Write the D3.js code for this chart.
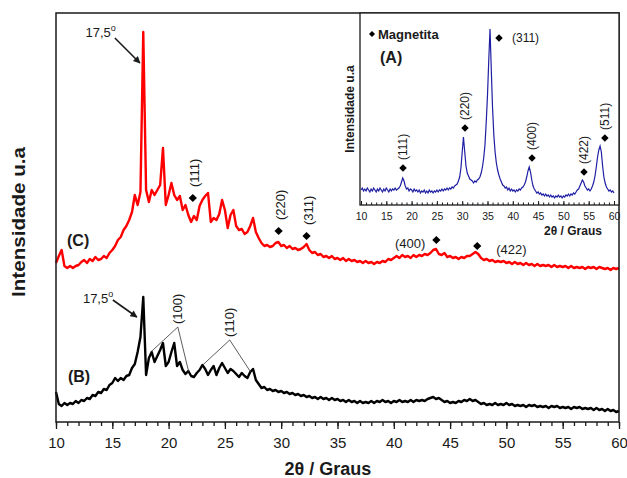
<!DOCTYPE html>
<html>
<head>
<meta charset="utf-8">
<script src="https://cdn.jsdelivr.net/npm/d3@7"></script>
<style>
  body { margin: 0; background: #fff; }
  svg { display: block; font-family: "Liberation Sans", Arial, sans-serif; }
</style>
</head>
<body>
<svg id="chart" width="627" height="478"></svg>
<script>
// 2theta grid of the diffractograms (degrees), one value every 0.25
const angleStart = 10;
const angleStep = 0.25;

// (C) red curve, intensity u.a.
const serieC = [
  159,166,172,156, 154,156,154,156, 157,160,162,159, 163,161,165,162,
  163,166,164,169, 172,176,182,185, 192,196,202,210, 227,217,230,390,
  232,220,232,227, 232,237,274,217, 227,239,227,222, 226,212,217,207,
  200,206,202,216, 222,226,229,200, 204,202,208,222, 212,194,207,212,
  196,192,193,188, 190,196,204,190, 184,179,176,177, 175,176,179,180,
  176,177,174,176, 173,174,172,173, 175,178,172,169, 170,167,168,165,
  166,164,166,163, 164,162,164,161, 163,161,162,160, 161,159,161,159,
  160,158,160,159, 161,160,163,162, 164,166,164,167, 165,166,164,167,
  165,167,166,168, 167,169,172,173, 168,167,169,165, 166,164,165,163,
  165,164,166,166, 168,170,168,164, 162,163,161,162, 160,161,160,161,
  159,160,158,160, 158,159,157,159, 157,158,156,158, 156,157,156,157,
  155,157,155,156, 155,156,154,156, 154,155,154,155, 153,155,154,155,
  153,155,154,153, 154,152,154,153, 154
];

// (B) black curve, intensity u.a.
const serieB = [
  30,18,16,19, 17,19,18,21, 19,22,21,24, 23,27,26,30,
  29,33,32,37, 39,44,41,44, 42,46,47,54, 58,70,85,125,
  47,64,70,60, 66,72,79,56, 60,70,79,56, 60,52,48,51,
  46,45,49,52, 57,53,47,52, 56,47,54,59, 54,49,53,51,
  48,45,49,46, 44,50,53,42, 38,34,35,32, 33,31,32,30,
  31,29,30,28, 29,27,28,26, 27,25,26,24, 25,23,25,23,
  24,22,24,22, 23,21,22,20, 22,20,21,19, 21,19,20,19,
  21,19,21,20, 22,20,21,19, 21,20,22,20, 21,20,22,20,
  22,21,22,21, 23,24,25,23, 24,22,20,21, 19,20,19,21,
  20,22,21,23, 21,22,20,18, 19,17,18,17, 19,17,18,17,
  19,17,18,16, 17,16,17,15, 17,16,17,15, 16,15,16,14,
  16,15,16,14, 15,14,15,13, 15,14,15,13, 14,13,14,12,
  14,12,13,11, 13,11,12,10, 11
];

// (A) inset, magnetite, intensity u.a.
const serieA = [
  15,17,14,16, 14,17,15,13, 16,14,17,15, 13,16,14,17,
  15,13,16,14, 17,15,13,16, 14,16,15,17, 15,16,17,19,
  23,27,24,19, 16,17,14,16, 15,13,16,14, 15,13,15,12,
  14,13,15,12, 14,12,15,13, 14,12,14,13, 15,13,15,14,
  16,14,16,15, 17,15,17,16, 18,17,19,20, 21,24,28,37,
  53,68,53,39, 32,29,26,25, 24,22,24,23, 25,26,28,32,
  38,47,60,83, 110,145,176,135, 97,70,53,42, 35,30,26,23,
  20,19,17,18, 15,17,14,16, 14,15,13,15, 14,16,15,17,
  18,20,23,28, 34,38,33,25, 19,16,14,12, 13,11,12,10,
  11,9,11,9, 10,8,10,8, 9,7,9,8, 10,8,9,7,
  9,8,10,9, 11,9,11,10, 12,11,13,15, 16,19,22,25,
  23,19,17,15, 16,14,16,19, 23,29,38,48, 55,59,53,39,
  28,22,18,16, 14,15,13,14, 12
];

const mainTicks = [10, 15, 20, 25, 30, 35, 40, 45, 50, 55, 60];
const insetTicks = [10, 15, 20, 25, 30, 35, 40, 45, 50, 55, 60];

// peak labels: [hkl, 2theta, intensity]
const peaksC = [
  ["(111)", 22.15, 224], ["(220)", 29.77, 191], ["(311)", 32.25, 186],
  ["(400)", 43.78, 182], ["(422)", 47.41, 176]
];
const peaksA = [
  ["(111)", 18.3, 37], ["(220)", 30.55, 77], ["(311)", 37.27, 167],
  ["(400)", 43.8, 47], ["(422)", 54.07, 33], ["(511)", 58.2, 67]
];
// brackets on (B): [hkl, apex, left end, right end] as [2theta, intensity]
const bracketsB = [
  ["(100)", [20.82, 95], [18.42, 70], [21.79, 50]],
  ["(110)", [25.43, 82], [23.03, 57], [27.29, 50]]
];

const svg = d3.select("#chart");
const ink = "#1a1a1a";

const x = d3.scaleLinear().domain([10, 60]).range([56, 619]);
const y = d3.scaleLinear().domain([0, 409]).range([422, 13]);
const angleAt = i => angleStart + i * angleStep;

svg.append("defs").append("marker")
  .attr("id", "arrow")
  .attr("viewBox", "0 0 10 10")
  .attr("refX", 9).attr("refY", 5)
  .attr("markerWidth", 9).attr("markerHeight", 7)
  .attr("markerUnits", "userSpaceOnUse")
  .attr("orient", "auto")
  .append("path").attr("d", "M0,0L10,5L0,10z").attr("fill", ink);

const mainLine = d3.line().x((d, i) => x(angleAt(i))).y(d => y(d));

svg.append("path").datum(serieC)
  .attr("d", mainLine)
  .attr("fill", "none").attr("stroke", "#ff0000")
  .attr("stroke-width", 2.4).attr("stroke-linejoin", "round");

svg.append("path").datum(serieB)
  .attr("d", mainLine)
  .attr("fill", "none").attr("stroke", "#000")
  .attr("stroke-width", 2.4).attr("stroke-linejoin", "round");

// frame
svg.append("rect")
  .attr("x", 56).attr("y", 13).attr("width", 563).attr("height", 409)
  .attr("fill", "none").attr("stroke", ink).attr("stroke-width", 1.5);

// x axis, minor then major ticks
svg.append("g")
  .attr("transform", "translate(0,422)")
  .call(d3.axisBottom(x).tickValues(d3.range(10, 61, 1)).tickSize(4).tickFormat(""))
  .call(g => g.select(".domain").remove())
  .call(g => g.selectAll("line").attr("stroke", ink).attr("stroke-width", 1.3));

svg.append("g")
  .attr("transform", "translate(0,422)")
  .call(d3.axisBottom(x).tickValues(mainTicks).tickSize(7).tickPadding(8))
  .call(g => g.select(".domain").remove())
  .call(g => g.selectAll("line").attr("stroke", ink).attr("stroke-width", 1.3))
  .call(g => g.selectAll("text").attr("font-size", 15).attr("fill", ink)
    .attr("font-family", "Liberation Sans, Arial, sans-serif"));

svg.append("text")
  .attr("x", 328).attr("y", 475)
  .attr("text-anchor", "middle")
  .attr("font-size", 18).attr("font-weight", "bold").attr("fill", ink)
  .text("2θ / Graus");

svg.append("text")
  .attr("transform", "translate(19,222) rotate(-90)")
  .attr("text-anchor", "middle").attr("dominant-baseline", "central")
  .attr("font-size", 18).attr("font-weight", "bold").attr("fill", ink)
  .attr("textLength", 150).attr("lengthAdjust", "spacingAndGlyphs")
  .text("Intensidade u.a");

// series labels
svg.append("text").attr("x", x(10.98)).attr("y", y(176))
  .attr("font-size", 16).attr("font-weight", "bold").attr("fill", ink).text("(C)");
svg.append("text").attr("x", x(11.06)).attr("y", y(40))
  .attr("font-size", 16).attr("font-weight", "bold").attr("fill", ink).text("(B)");

// 17,5 arrows
function degreeNote(tx, ty, from, to) {
  const t = svg.append("text").attr("x", x(tx)).attr("y", y(ty))
    .attr("font-size", 13).attr("fill", ink);
  t.append("tspan").text("17,5");
  t.append("tspan").attr("font-size", 9).attr("dy", -6).text("o");
  svg.append("line")
    .attr("x1", x(from[0])).attr("y1", y(from[1]))
    .attr("x2", x(to[0])).attr("y2", y(to[1]))
    .attr("stroke", ink).attr("stroke-width", 1.6)
    .attr("marker-end", "url(#arrow)");
}
degreeNote(12.62, 385, [15.23, 384], [17.45, 359]);
degreeNote(12.39, 119, [15.05, 122], [17.18, 105]);

function diamond(g, cx, cy, size) {
  g.append("path")
    .attr("d", d3.symbol(d3.symbolSquare, size)())
    .attr("transform", `translate(${cx},${cy}) rotate(45)`)
    .attr("fill", "#000");
}

// peak labels on (C)
peaksC.forEach(([hkl, a, v]) => {
  const px = x(a), py = y(v);
  diamond(svg, px, py, 34);
  if (hkl === "(400)") {
    svg.append("text").attr("x", px - 11).attr("y", py + 3)
      .attr("text-anchor", "end").attr("dominant-baseline", "central")
      .attr("font-size", 13).attr("fill", ink).text(hkl);
  } else if (hkl === "(422)") {
    svg.append("text").attr("x", px + 19).attr("y", py + 3)
      .attr("dominant-baseline", "central")
      .attr("font-size", 13).attr("fill", ink).text(hkl);
  } else {
    svg.append("text")
      .attr("transform", `translate(${px + 2},${py - 11}) rotate(-90)`)
      .attr("dominant-baseline", "central")
      .attr("font-size", 13).attr("fill", ink).text(hkl);
  }
});

// brackets on (B)
bracketsB.forEach(([hkl, apex, left, right]) => {
  svg.append("path")
    .attr("d", d3.line()([[x(left[0]), y(left[1])], [x(apex[0]), y(apex[1])], [x(right[0]), y(right[1])]]))
    .attr("fill", "none").attr("stroke", "#333").attr("stroke-width", 0.8);
  svg.append("text")
    .attr("transform", `translate(${x(apex[0])},${y(apex[1]) - 3}) rotate(-90)`)
    .attr("dominant-baseline", "central")
    .attr("font-size", 13).attr("fill", ink).text(hkl);
});

// ---- inset (A)
const inset = svg.append("g");
const xi = d3.scaleLinear().domain([10, 60]).range([361, 614]);
const yi = d3.scaleLinear().domain([0, 192]).range([205, 13]);

inset.append("rect")
  .attr("x", 360).attr("y", 13).attr("width", 259).attr("height", 192)
  .attr("fill", "#fff").attr("stroke", ink).attr("stroke-width", 1.3);

inset.append("path").datum(serieA)
  .attr("d", d3.line().x((d, i) => xi(angleAt(i))).y(d => yi(d)))
  .attr("fill", "none").attr("stroke", "#1f1fa3").attr("stroke-width", 1.2);

inset.append("g")
  .attr("transform", "translate(0,205)")
  .call(d3.axisBottom(xi).tickValues(d3.range(10, 61, 1)).tickSize(-2.5).tickFormat(""))
  .call(g => g.select(".domain").remove())
  .call(g => g.selectAll("line").attr("stroke", ink));

inset.append("g")
  .attr("transform", "translate(0,205)")
  .call(d3.axisBottom(xi).tickValues(insetTicks).tickSize(-4).tickPadding(8))
  .call(g => g.select(".domain").remove())
  .call(g => g.selectAll("line").attr("stroke", ink))
  .call(g => g.selectAll("text").attr("font-size", 10.5).attr("fill", ink)
    .attr("font-family", "Liberation Sans, Arial, sans-serif"));

inset.append("text")
  .attr("x", 573).attr("y", 235).attr("text-anchor", "middle")
  .attr("font-size", 12).attr("font-weight", "bold").attr("fill", ink)
  .text("2θ / Graus");

inset.append("text")
  .attr("transform", "translate(350,109) rotate(-90)")
  .attr("text-anchor", "middle").attr("dominant-baseline", "central")
  .attr("font-size", 12).attr("font-weight", "bold").attr("fill", ink)
  .text("Intensidade u.a");

diamond(inset, 372, 34, 18);
inset.append("text").attr("x", 378).attr("y", 34)
  .attr("dominant-baseline", "central")
  .attr("font-size", 13).attr("font-weight", "bold").attr("fill", ink)
  .text("Magnetita");
inset.append("text").attr("x", 380).attr("y", 63)
  .attr("font-size", 16).attr("font-weight", "bold").attr("fill", ink)
  .text("(A)");

peaksA.forEach(([hkl, a, v]) => {
  const px = xi(a), py = yi(v);
  diamond(inset, px, py, 28);
  if (hkl === "(311)") {
    inset.append("text").attr("x", px + 13).attr("y", py)
      .attr("dominant-baseline", "central")
      .attr("font-size", 12).attr("fill", ink).text(hkl);
  } else {
    inset.append("text")
      .attr("transform", `translate(${px},${py - 8}) rotate(-90)`)
      .attr("dominant-baseline", "central")
      .attr("font-size", 12).attr("fill", ink).text(hkl);
  }
});
</script>
</body>
</html>
